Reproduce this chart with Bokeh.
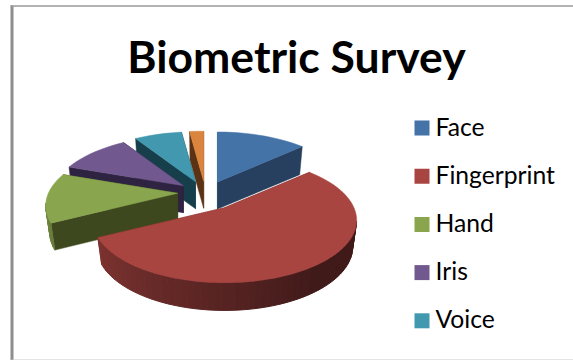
import math

from bokeh.core.properties import value
from bokeh.embed import file_html
from bokeh.models import Range1d
from bokeh.plotting import figure
from bokeh.resources import INLINE

title_text = "Biometric Survey"
categories = ["Face", "Fingerprint", "Hand", "Iris", "Voice"]
# shares of the pie, clockwise from twelve o'clock; the last one has no legend entry
shares = [11.1, 59.4, 12.8, 9.2, 5.8, 1.7]
top_colors = ["#4473A8", "#A84541", "#89A54E", "#71588F", "#4198AF", "#DB843D"]
wall_colors = ["#27405F", "#7A302D", "#3D481F", "#2E2340", "#163F4B", "#5B3314"]
# how far each slice is pulled out of the pie, in pixels
explode = [35, 35, 28, 32, 35, 35]

# pie layout, in screen pixels
CX, CY = 205, 194
RX, R_BACK, R_FRONT = 132, 50, 75
DEPTH = 27
FRONT_EXTRA_DEPTH = 3
BASE_SHRINK = 0.97
STRIP_DEGREES = 3


def project(ox, oy, deg, shrink=1.0, drop=0.0):
    """Place a rim angle on an ellipse whose centre sits below the apex of the slice."""
    t = math.radians(deg)
    s, c = math.sin(t), math.cos(t)
    yc = (R_FRONT - R_BACK) / 2
    ry = (R_FRONT + R_BACK) / 2
    extra = FRONT_EXTRA_DEPTH * max(-c, 0) if drop else 0
    return ox + RX * s * shrink, oy + (yc - ry * c) * shrink + drop + extra


def lerp_hex(a, b, f):
    pa = [int(a[i:i + 2], 16) for i in (1, 3, 5)]
    pb = [int(b[i:i + 2], 16) for i in (1, 3, 5)]
    return "#" + "".join(f"{round(x + (y - x) * f):02X}" for x, y in zip(pa, pb))


p = figure(
    width=573, height=360, output_backend="svg", toolbar_location=None,
    x_range=Range1d(0, 573), y_range=Range1d(360, 0),
    min_border=0, outline_line_color=None,
)
p.axis.visible = False
p.grid.visible = False

# chart frame
p.line([11.5, 11.5], [5, 360], line_color="#8E8E8E", line_width=3)
p.line([10, 573], [5.5, 5.5], line_color="#9A9A9A", line_width=1.5)
p.line([11, 573], [359.5, 359.5], line_color="#C8C8C8", line_width=1)

# slice angle spans and exploded apexes
total = sum(shares)
spans = []
start = 0.0
for share, pull in zip(shares, explode):
    end = start + share / total * 360
    mid = math.radians((start + end) / 2)
    ratio = 0.38 if math.cos(mid) > 0 else 0.45
    ox = CX + pull * math.sin(mid)
    oy = CY - pull * math.cos(mid) * ratio
    spans.append((start, end, ox, oy))
    start = end


def draw_slice(i):
    a0, a1, ox, oy = spans[i]
    steps = max(int((a1 - a0) / STRIP_DEGREES), 2)
    angles = [a0 + (a1 - a0) * k / steps for k in range(steps + 1)]

    # cut walls running from the apex to each visible rim corner
    for edge in (a0, a1):
        ex, ey = project(ox, oy, edge)
        bx, by = project(ox, oy, edge, BASE_SHRINK, DEPTH)
        p.patch([ox, ex, bx, ox], [oy, ey, by, oy + DEPTH],
                fill_color=wall_colors[i], line_color=wall_colors[i], line_width=0.5)

    # outer rim, shaded strip by strip across the near half of the disc
    rim = top_colors[i]
    for k in range(steps):
        lo, hi = angles[k], angles[k + 1]
        if 90 < (lo + hi) / 2 < 272:
            f = (272 - (lo + hi) / 2) / 182
            shade = lerp_hex(lerp_hex(rim, "#000000", 0.2), lerp_hex(rim, "#000000", 0.62), min(f * 1.35, 1))
            t0, t1 = project(ox, oy, lo), project(ox, oy, hi)
            b0, b1 = project(ox, oy, lo, BASE_SHRINK, DEPTH), project(ox, oy, hi, BASE_SHRINK, DEPTH)
            p.patch([t0[0], t1[0], b1[0], b0[0]], [t0[1], t1[1], b1[1], b0[1]],
                    fill_color=shade, line_color=shade, line_width=1)

    # top face
    rim_pts = [project(ox, oy, a) for a in angles]
    p.patch([ox] + [q[0] for q in rim_pts], [oy] + [q[1] for q in rim_pts],
            fill_color=top_colors[i], line_color=top_colors[i], line_width=0.5)


# far slices first so the near ones overlap them
for i in (5, 4, 3, 0, 2, 1):
    draw_slice(i)

# title
p.text([296], [55], text=[title_text], text_font=value("Lato"), text_font_style="bold",
       text_font_size="44.5px", text_color="#000000", text_align="center", text_baseline="middle")

# legend
for row, name in enumerate(categories):
    y = 127.5 + row * 48.2
    p.rect([421.5], [y], width=15, height=15, fill_color=top_colors[row], line_color=None)
    p.text([435], [y - 2], text=[name], text_font=value("Lato"), text_font_size="24.7px",
           text_color="#000000", text_align="left", text_baseline="middle")

open("out.html", "w").write(file_html(p, INLINE))
